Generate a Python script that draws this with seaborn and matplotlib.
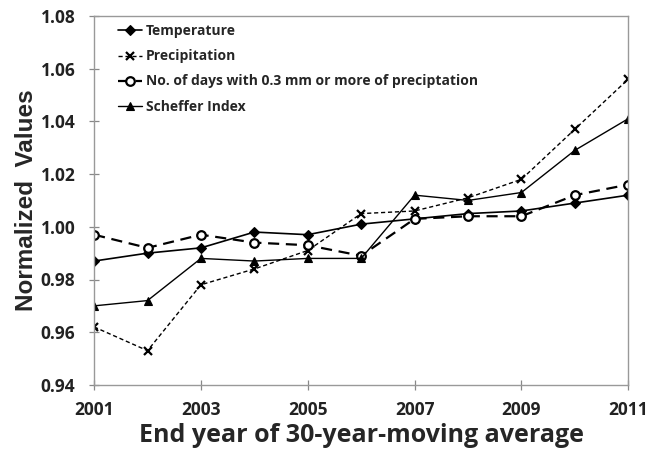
import matplotlib
matplotlib.use("Agg")
import matplotlib.pyplot as plt
import seaborn as sns
import pandas as pd

years = list(range(2001, 2012))
temperature = [0.987, 0.990, 0.992, 0.998, 0.997, 1.001, 1.003, 1.005, 1.006, 1.009, 1.012]
precipitation = [0.962, 0.953, 0.978, 0.984, 0.991, 1.005, 1.006, 1.011, 1.018, 1.037, 1.056]
rain_days = [0.997, 0.992, 0.997, 0.994, 0.993, 0.989, 1.003, 1.004, 1.004, 1.012, 1.016]
scheffer = [0.970, 0.972, 0.988, 0.987, 0.988, 0.988, 1.012, 1.010, 1.013, 1.029, 1.041]
labels = ["Temperature", "Precipitation",
          "No. of days with 0.3 mm or more of preciptation", "Scheffer Index"]
y_ticks = [0.94, 0.96, 0.98, 1.00, 1.02, 1.04, 1.06, 1.08]
x_ticks = [2001, 2003, 2005, 2007, 2009, 2011]

sns.set_theme(style="white")
plt.rcParams['font.family'] = ['Open Sans', 'DejaVu Sans']

fig = plt.figure(figsize=(6.49, 4.55), dpi=100)
ax = fig.add_axes([0.145, 0.154, 0.823, 0.811])

series = [temperature, precipitation, rain_days, scheffer]
styles = [
    dict(marker="D", linestyle="-", linewidth=1.2, markersize=5.5, mfc="black", mew=0.8),
    dict(marker="x", linestyle=(0, (3, 2)), linewidth=1.0, markersize=6, mew=1.6),
    dict(marker="o", linestyle=(0, (5, 3)), linewidth=1.6, markersize=6.2, mfc="white", mew=1.6),
    dict(marker="^", linestyle="-", linewidth=1.0, markersize=6, mfc="black", mew=0.8),
]
for vals, lab, st in zip(series, labels, styles):
    df = pd.DataFrame({"year": years, "value": vals})
    sns.lineplot(data=df, x="year", y="value", ax=ax, color="black", label=lab,
                 markeredgecolor="black", **st)

ax.set_xlim(2001, 2011)
ax.set_ylim(0.94, 1.08)
ax.set_xticks(x_ticks)
ax.set_yticks(y_ticks)
ax.set_xticklabels([str(x) for x in x_ticks], fontsize=12.5, fontweight="bold", color="#222222")
ax.set_yticklabels([f"{v:.2f}" for v in y_ticks], fontsize=12.5, fontweight="bold", color="#222222")
ax.tick_params(axis="both", which="major", direction="inout", length=7, width=0.9,
               color="#888888", left=True, bottom=True)
ax.tick_params(axis="x", pad=8)
ax.tick_params(axis="y", pad=10)
for sp in ax.spines.values():
    sp.set_color("#999999")
    sp.set_linewidth(1.0)

ax.set_xlabel("End year of 30-year-moving average", fontsize=18, fontweight="bold", labelpad=3)
ax.set_ylabel("Normalized  Values", fontsize=17.5, fontweight="bold", labelpad=2,
              family=["Liberation Sans", "DejaVu Sans"])

leg = ax.legend(loc="upper left", frameon=False, fontsize=10, handlelength=1.7,
                handletextpad=0.3, labelspacing=0.8, bbox_to_anchor=(0.03, 1.0),
                borderaxespad=0.2)
for t in leg.get_texts():
    t.set_fontweight("bold")

fig.savefig("out.png", dpi=100)
